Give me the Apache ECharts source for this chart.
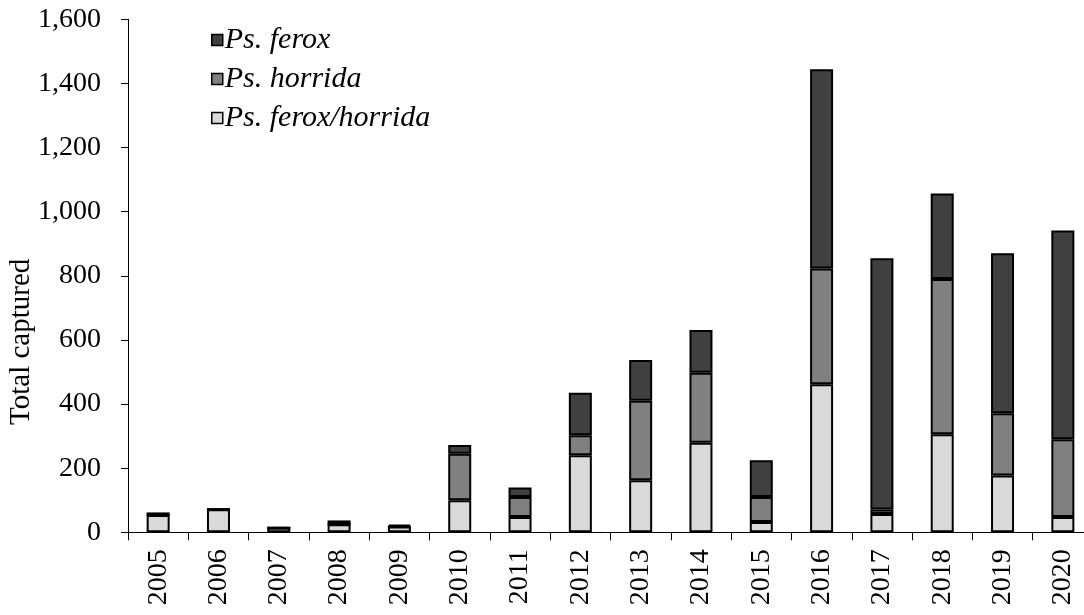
<!DOCTYPE html>
<html>
<head>
<meta charset="utf-8">
<script src="https://cdn.jsdelivr.net/npm/echarts@6/dist/echarts.min.js"></script>
<style>html,body{margin:0;padding:0;background:#fff}#c{width:1084px;height:615px}</style>
</head>
<body>
<div id="c"></div>
<script>
const years = ['2005','2006','2007','2008','2009','2010','2011','2012','2013','2014','2015','2016','2017','2018','2019','2020'];
const feroxHorrida = [54, 72, 14, 25, 18, 100, 48, 240, 162, 279, 32, 462, 57, 306, 177, 48];
const horrida = [0, 0, 0, 0, 0, 145, 62, 63, 248, 219, 78, 361, 14, 484, 194, 242];
const ferox = [8, 0, 0, 12, 6, 27, 30, 132, 127, 133, 115, 621, 784, 267, 499, 651];
const yTicks = [0, 200, 400, 600, 800, 1000, 1200, 1400, 1600];

const font = 'Liberation Serif';
const chart = echarts.init(document.getElementById('c'), null, {renderer: 'canvas'});
const barStyle = (color) => ({color: color, borderColor: '#000', borderWidth: 2});
chart.setOption({
  animation: false,
  backgroundColor: '#fff',
  grid: {left: 128, top: 19.3, width: 965, height: 513, outerBoundsMode: 'none', containLabel: false},
  legend: {
    orient: 'vertical', left: 206, top: 20, itemWidth: 11, itemHeight: 11, itemGap: 9,
    icon: 'rect',
    data: ['Ps. ferox', 'Ps. horrida', 'Ps. ferox/horrida'],
    itemStyle: {borderColor: '#000', borderWidth: 1.5},
    textStyle: {fontFamily: font, fontStyle: 'italic', fontSize: 30, lineHeight: 30, color: '#000', padding: [0, 0, 0, -3]}
  },
  xAxis: {
    type: 'category', data: years, boundaryGap: true,
    axisLine: {lineStyle: {color: '#000', width: 1}},
    axisTick: {show: true, length: 8, interval: 0, lineStyle: {color: '#000'}},
    axisLabel: {rotate: 90, interval: 0, margin: 17, fontFamily: font, fontSize: 28, color: '#000'}
  },
  yAxis: {
    type: 'value', min: yTicks[0], max: yTicks[yTicks.length - 1], interval: 200,
    name: 'Total captured', nameLocation: 'middle', nameGap: 92, nameMoveOverlap: false,
    nameTextStyle: {fontFamily: font, fontSize: 29, color: '#000', padding: [0, 132, 0, 0]},
    splitLine: {show: false},
    axisLine: {show: true, lineStyle: {color: '#000', width: 1}},
    axisTick: {show: true, length: 7, lineStyle: {color: '#000'}},
    axisLabel: {margin: 27, fontFamily: font, fontSize: 28, color: '#000',
      formatter: v => v.toLocaleString('en-US')}
  },
  series: [
    {name: 'Ps. ferox/horrida', type: 'bar', stack: 't', barWidth: 23, data: feroxHorrida, itemStyle: barStyle('#d9d9d9')},
    {name: 'Ps. horrida', type: 'bar', stack: 't', barWidth: 23, data: horrida, itemStyle: barStyle('#808080')},
    {name: 'Ps. ferox', type: 'bar', stack: 't', barWidth: 23, data: ferox, itemStyle: barStyle('#404040')}
  ]
});
</script>
</body>
</html>
